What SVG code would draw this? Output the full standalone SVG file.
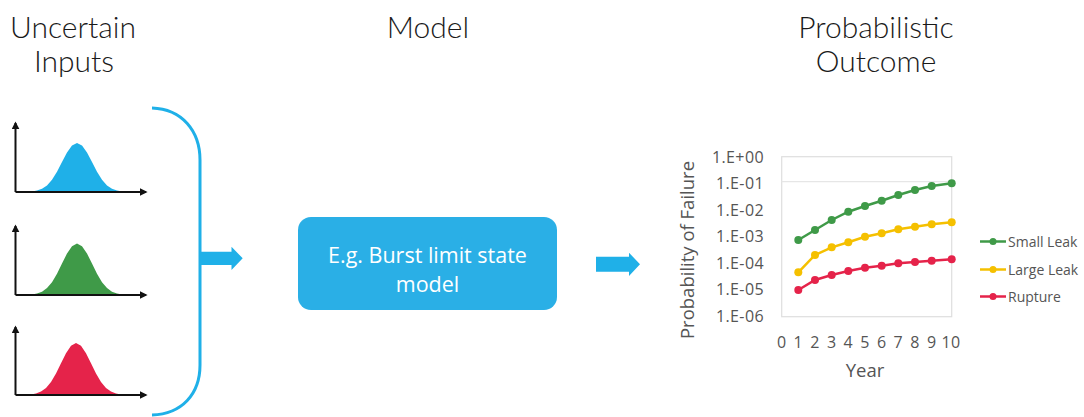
<svg xmlns="http://www.w3.org/2000/svg" width="1084" height="417" viewBox="0 0 1084 417">
  <style>
    .title { font-family: "Lato", "Liberation Sans", sans-serif; font-weight: 300; font-size: 30px; fill: #1a1a1a; text-anchor: middle; }
    .axis { stroke: #111; stroke-width: 2; fill: none; }
    .blue { fill: #1fb0e8; }
    .green { fill: #3f9a48; }
    .red { fill: #e5234a; }
    .bracket { stroke: #1fb0e8; stroke-width: 3; fill: none; }
    .arrow { fill: #1fb0e8; }
    .box { fill: #2aafe6; }
    .boxtext { font-family: "Open Sans", "Liberation Sans", sans-serif; font-size: 21.5px; fill: #ffffff; text-anchor: middle; }
    .tick { font-family: "Open Sans", "Liberation Sans", sans-serif; font-size: 16px; letter-spacing: 0.4px; fill: #555; }
    .axlabel { font-family: "Open Sans", "Liberation Sans", sans-serif; font-size: 18.5px; fill: #555; text-anchor: middle; }
    .legend { font-family: "Open Sans", "Liberation Sans", sans-serif; font-size: 14px; fill: #555; }
    .frame { fill: #ffffff; stroke: #dedede; stroke-width: 1.2; }
    .grid { stroke: #e6e6e6; stroke-width: 1.2; }
    .s-green { stroke: #3f9a48; stroke-width: 2.5; fill: none; }
    .s-yellow { stroke: #f5c000; stroke-width: 2.5; fill: none; }
    .s-red { stroke: #e5234a; stroke-width: 2.5; fill: none; }
    .m-green { fill: #3f9a48; }
    .m-yellow { fill: #f5c000; }
    .m-red { fill: #e5234a; }
  </style>
  <defs>
    <marker id="axhead" viewBox="0 0 10 10" refX="8" refY="5" markerWidth="4" markerHeight="4" orient="auto">
      <path d="M0,0 L10,5 L0,10 Z" fill="#111"/>
    </marker>
    <!-- bell curve, peak at origin x, baseline at y=0 -->
    <path id="bell" d="M-47,0 L-45,-0.5 L-40,-1.4 L-35,-3.2 L-30,-6.6 L-25,-12.2 L-20,-20.2 L-15,-30 L-10,-39.5 L-5,-46.5 L0,-49 L5,-46.5 L10,-39.5 L15,-30 L20,-20.2 L25,-12.2 L30,-6.6 L35,-3.2 L40,-1.4 L45,-0.5 L47,0 Z"/>
  </defs>

  <rect width="1084" height="417" fill="#ffffff"/>

  <!-- headings -->
  <g id="heading-inputs">
    <text class="title" x="73" y="38">Uncertain</text>
    <text class="title" x="74" y="72">Inputs</text>
  </g>
  <g id="heading-model">
    <text class="title" x="428" y="38">Model</text>
  </g>
  <g id="heading-outcome">
    <text class="title" x="876" y="38">Probabilistic</text>
    <text class="title" x="876" y="72">Outcome</text>
  </g>

  <!-- input distributions -->
  <g id="input-1">
    <use href="#bell" class="blue" transform="translate(77,192)"/>
    <path class="axis" d="M15.5,192 L15.5,123" marker-end="url(#axhead)"/>
    <path class="axis" d="M15.5,192 L146,192" marker-end="url(#axhead)"/>
  </g>
  <g id="input-2">
    <use href="#bell" class="green" transform="translate(77,295) scale(1,1.05)"/>
    <path class="axis" d="M15.5,295 L15.5,226" marker-end="url(#axhead)"/>
    <path class="axis" d="M15.5,295 L146,295" marker-end="url(#axhead)"/>
  </g>
  <g id="input-3">
    <use href="#bell" class="red" transform="translate(76,395) scale(1,1.06)"/>
    <path class="axis" d="M15.5,395 L15.5,327" marker-end="url(#axhead)"/>
    <path class="axis" d="M15.5,395 L146,395" marker-end="url(#axhead)"/>
  </g>

  <!-- model -->
  <g id="model">
    <rect class="box" x="298" y="217" width="259" height="93" rx="13"/>
    <text class="boxtext" x="427.5" y="263">E.g. Burst limit state</text>
    <text class="boxtext" x="427.5" y="292">model</text>
  </g>

  <!-- connectors -->
  <g id="connectors">
    <path class="bracket" d="M152,108 C182,109 200,131 200,160 L200,365 C200,394 182,414 152,415"/>
    <path class="arrow" d="M200,251.7 L231.5,251.7 L231.5,246.7 L242.7,258.3 L231.5,270 L231.5,265 L200,265 Z"/>
    <path class="arrow" d="M596,256.7 L629,256.7 L629,252.7 L640,264.3 L629,276 L629,271.7 L596,271.7 Z"/>
  </g>

  <!-- outcome chart -->
  <g id="outcome-chart">
    <rect class="frame" x="781.7" y="156.7" width="170" height="160"/>
    <line class="grid" x1="781.7" y1="181.7" x2="951.7" y2="181.7"/>

    <g class="tick" text-anchor="end">
      <text x="764" y="162.5">1.E+00</text>
      <text x="764" y="189">1.E-01</text>
      <text x="764" y="215.5">1.E-02</text>
      <text x="764" y="242">1.E-03</text>
      <text x="764" y="268.5">1.E-04</text>
      <text x="764" y="295">1.E-05</text>
      <text x="764" y="321.5">1.E-06</text>
    </g>
    <g class="tick" text-anchor="middle">
      <text x="781.7" y="347.5">0</text>
      <text x="798.3" y="347.5">1</text>
      <text x="815" y="347.5">2</text>
      <text x="831.7" y="347.5">3</text>
      <text x="848.3" y="347.5">4</text>
      <text x="865" y="347.5">5</text>
      <text x="881.7" y="347.5">6</text>
      <text x="898.3" y="347.5">7</text>
      <text x="915" y="347.5">8</text>
      <text x="931.7" y="347.5">9</text>
      <text x="951" y="347.5">10</text>
    </g>
    <text class="axlabel" x="865" y="377">Year</text>
    <text class="axlabel" transform="translate(694,250) rotate(-90)">Probability of Failure</text>

    <polyline class="s-green" points="798.3,240 815,230 831.7,220 848.3,211.7 865,206 881.7,200.7 898.3,195 915,190 931.7,186 951.7,183.3"/>
    <g class="m-green">
      <circle cx="798.3" cy="240" r="4"/><circle cx="815" cy="230" r="4"/><circle cx="831.7" cy="220" r="4"/>
      <circle cx="848.3" cy="211.7" r="4"/><circle cx="865" cy="206" r="4"/><circle cx="881.7" cy="200.7" r="4"/>
      <circle cx="898.3" cy="195" r="4"/><circle cx="915" cy="190" r="4"/><circle cx="931.7" cy="186" r="4"/>
      <circle cx="951.7" cy="183.3" r="4"/>
    </g>

    <polyline class="s-yellow" points="798.3,272.3 815,255 831.7,247.3 848.3,242.3 865,236.7 881.7,233.3 898.3,229.3 915,226.7 931.7,224.3 951.7,222.3"/>
    <g class="m-yellow">
      <circle cx="798.3" cy="272.3" r="4"/><circle cx="815" cy="255" r="4"/><circle cx="831.7" cy="247.3" r="4"/>
      <circle cx="848.3" cy="242.3" r="4"/><circle cx="865" cy="236.7" r="4"/><circle cx="881.7" cy="233.3" r="4"/>
      <circle cx="898.3" cy="229.3" r="4"/><circle cx="915" cy="226.7" r="4"/><circle cx="931.7" cy="224.3" r="4"/>
      <circle cx="951.7" cy="222.3" r="4"/>
    </g>

    <polyline class="s-red" points="798.3,290 815,280 831.7,275 848.3,271 865,267.7 881.7,265.7 898.3,263.3 915,262 931.7,260.7 951.7,259.3"/>
    <g class="m-red">
      <circle cx="798.3" cy="290" r="4"/><circle cx="815" cy="280" r="4"/><circle cx="831.7" cy="275" r="4"/>
      <circle cx="848.3" cy="271" r="4"/><circle cx="865" cy="267.7" r="4"/><circle cx="881.7" cy="265.7" r="4"/>
      <circle cx="898.3" cy="263.3" r="4"/><circle cx="915" cy="262" r="4"/><circle cx="931.7" cy="260.7" r="4"/>
      <circle cx="951.7" cy="259.3" r="4"/>
    </g>
  </g>

  <!-- legend -->
  <g id="legend">
    <line class="s-green" x1="980" y1="241.5" x2="1006" y2="241.5"/>
    <circle class="m-green" cx="993" cy="241.5" r="3.5"/>
    <text class="legend" x="1008" y="246.5">Small Leak</text>
    <line class="s-yellow" x1="980" y1="269.5" x2="1006" y2="269.5"/>
    <circle class="m-yellow" cx="993" cy="269.5" r="3.5"/>
    <text class="legend" x="1008" y="274.5">Large Leak</text>
    <line class="s-red" x1="980" y1="296.5" x2="1006" y2="296.5"/>
    <circle class="m-red" cx="993" cy="296.5" r="3.5"/>
    <text class="legend" x="1008" y="301.5">Rupture</text>
  </g>
</svg>
